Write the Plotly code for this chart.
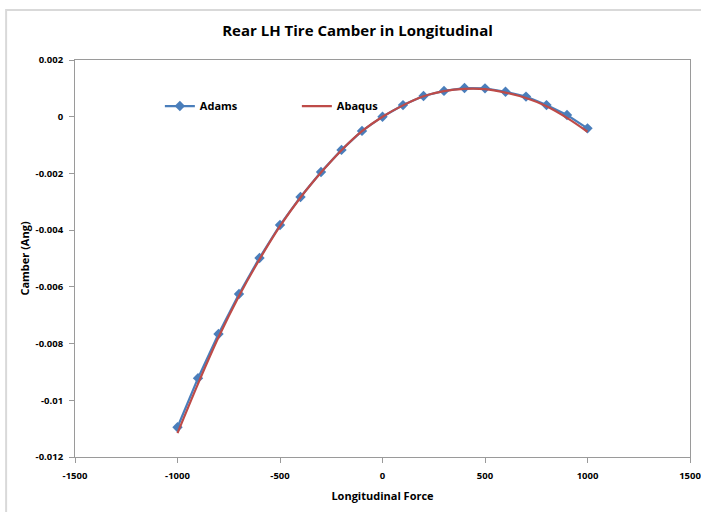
import plotly.graph_objects as go

force = [-1000, -900, -800, -700, -600, -500, -400, -300, -200, -100, 0,
         100, 200, 300, 400, 500, 600, 700, 800, 900, 1000]
adams = [-0.01095, -0.00922, -0.00766, -0.00625, -0.00498, -0.00382, -0.00283,
         -0.00195, -0.00117, -0.00050, 0.0, 0.00041, 0.00073, 0.00091, 0.00101,
         0.00100, 0.00088, 0.00071, 0.00041, 0.00006, -0.00041]
abaqus = [-0.01116, -0.00942, -0.00778, -0.00632, -0.00503, -0.00386, -0.00285,
          -0.00197, -0.00118, -0.00051, 0.0, 0.00040, 0.00072, 0.00090, 0.00098,
          0.00097, 0.00085, 0.00066, 0.00037, -0.00004, -0.00053]

x_ticks = [-1500, -1000, -500, 0, 500, 1000, 1500]
x_tick_labels = ["-1500", "-1000", "-500", "0", "500", "1000", "1500"]
y_ticks = [0.002, 0, -0.002, -0.004, -0.006, -0.008, -0.01, -0.012]
y_tick_labels = ["0.002", "0", "-0.002", "-0.004", "-0.006", "-0.008", "-0.01", "-0.012"]

FONT = "Open Sans"

fig = go.Figure()
fig.add_trace(go.Scatter(
    x=force, y=adams, name="Adams", mode="lines+markers",
    line=dict(color="#4a7ebb", width=2.2),
    marker=dict(symbol="diamond", size=8, color="#4a7ebb"),
))
fig.add_trace(go.Scatter(
    x=force, y=abaqus, name="Abaqus", mode="lines",
    line=dict(color="#be4b48", width=2.2, shape="spline"),
))

axis_common = dict(
    showgrid=False, zeroline=False, showline=True, linecolor="#9a9a9a",
    linewidth=1, mirror=True, ticks="outside", ticklen=5, tickcolor="#9a9a9a",
    automargin=False, ticklabeloverflow="allow",
    tickfont=dict(family=FONT, size=9.5, color="#000000", weight="bold"),
)

fig.update_layout(
    width=701, height=512,
    margin=dict(l=75, r=11, t=60, b=55),
    paper_bgcolor="white", plot_bgcolor="white",
    title=dict(text="<b>Rear LH Tire Camber in Longitudinal</b>",
               x=0.51, xanchor="center", y=0.94, yanchor="middle",
               font=dict(family=FONT, size=15, color="#000000")),
    xaxis=dict(range=[-1500, 1500], tickvals=x_ticks, ticktext=x_tick_labels,
               ticklabelstandoff=5,
               title=dict(text="<b>Longitudinal Force</b>", standoff=10,
                          font=dict(family=FONT, size=11, color="#000000")),
               **axis_common),
    yaxis=dict(range=[-0.012, 0.002], tickvals=y_ticks, ticktext=y_tick_labels,
               ticklabelstandoff=4,
               title=dict(text="<b>Camber (Ang)</b>", standoff=3,
                          font=dict(family=FONT, size=11, color="#000000")),
               **axis_common),
    legend=dict(orientation="h", x=0.138, y=0.884, xanchor="left", yanchor="middle",
                entrywidth=92, entrywidthmode="pixels",
                bgcolor="rgba(0,0,0,0)",
                font=dict(family=FONT, size=11, color="#000000", weight="bold")),
    showlegend=True,
)

fig.add_shape(type="rect", xref="paper", yref="paper",
              x0=-0.112, x1=1.2, y0=-0.3, y1=1.126,
              line=dict(color="#d9d9d9", width=2), fillcolor="rgba(0,0,0,0)",
              layer="below")

fig.write_html("out.html")
